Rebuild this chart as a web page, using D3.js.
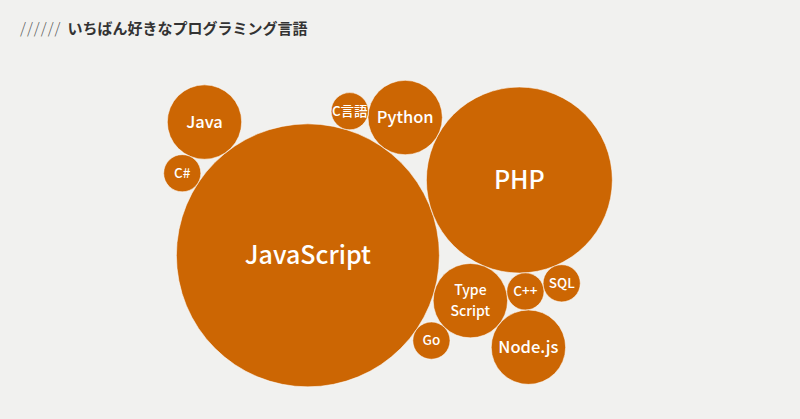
<!DOCTYPE html>
<html>
<head>
<meta charset="utf-8">
<script src="https://cdn.jsdelivr.net/npm/d3@7"></script>
<style>
  html, body { margin: 0; padding: 0; background: #f1f1ef; }
  svg { display: block; }
</style>
</head>
<body>
<svg id="chart" width="800" height="419"></svg>
<script>
// ---------------- data ----------------
const titleMark = "//////";
const titleText = "いちばん好きなプログラミング言語";
const languages = ["JavaScript", "PHP", "Python", "TypeScript", "Go", "C言語", "C++", "Node.js", "SQL", "Java", "C#"];
const votes     = [50, 25, 4, 4, 1, 1, 1, 4, 1, 4, 1];
const labelLines = [["JavaScript"], ["PHP"], ["Python"], ["Type", "Script"], ["Go"], ["C言語"], ["C++"], ["Node.js"], ["SQL"], ["Java"], ["C#"]];

// ---------------- layout description (which bubble rests on which) ----------------
const packedCore = ["JavaScript", "PHP", "Python", "TypeScript", "Go", "C言語", "C++"];
const restsOnOne = ["Java", "JavaScript", -127.8];           // bubble, neighbour, bearing (deg)
const restsOnTwo = [["Node.js", "TypeScript", "C++"], ["SQL", "C++", "PHP"], ["C#", "JavaScript", "Java"]];
const tiltDeg = -19.6;

// ---------------- build ----------------
const W = 800, H = 419;
const svg = d3.select("#chart");

const rScale = d3.scaleSqrt().domain([0, d3.max(votes)]).range([0, 131.5]);
const nodes = languages.map((name, i) => ({ name, value: votes[i], lines: labelLines[i], r: rScale(votes[i]) }));
const byName = new Map(nodes.map(d => [d.name, d]));

// 1) pack the core bubbles with d3
const core = packedCore.map(n => byName.get(n));
d3.packSiblings(core);

// 2) mirror + tilt the packed core
const phi = tiltDeg * Math.PI / 180;
core.forEach(d => {
  const x = d.x, y = -d.y;
  d.x = x * Math.cos(phi) - y * Math.sin(phi);
  d.y = x * Math.sin(phi) + y * Math.cos(phi);
});
const centre = [
  d3.sum(core, d => d.x * d.r * d.r) / d3.sum(core, d => d.r * d.r),
  d3.sum(core, d => d.y * d.r * d.r) / d3.sum(core, d => d.r * d.r)
];

// 3) bubble resting against a single neighbour
{
  const c = byName.get(restsOnOne[0]), a = byName.get(restsOnOne[1]);
  const ang = restsOnOne[2] * Math.PI / 180;
  c.x = a.x + (a.r + c.r) * Math.cos(ang);
  c.y = a.y + (a.r + c.r) * Math.sin(ang);
}

// 4) bubbles nested between two neighbours (outer side)
function nestBetween(c, a, b) {
  const dx = b.x - a.x, dy = b.y - a.y, d = Math.hypot(dx, dy);
  const ra = a.r + c.r, rb = b.r + c.r;
  const t = (ra * ra - rb * rb + d * d) / (2 * d);
  const h = Math.sqrt(Math.max(0, ra * ra - t * t));
  const ux = dx / d, uy = dy / d;
  const bx = a.x + t * ux, by = a.y + t * uy;
  const cands = [[bx - h * uy, by + h * ux], [bx + h * uy, by - h * ux]];
  const best = d3.greatest(cands, p => Math.hypot(p[0] - centre[0], p[1] - centre[1]));
  c.x = best[0]; c.y = best[1];
}
restsOnTwo.forEach(([c, a, b]) => nestBetween(byName.get(c), byName.get(a), byName.get(b)));

// 5) scales to place the cluster on the page
const x0 = d3.min(nodes, d => d.x - d.r), x1 = d3.max(nodes, d => d.x + d.r);
const y0 = d3.min(nodes, d => d.y - d.r), y1 = d3.max(nodes, d => d.y + d.r);
const cx = 388, cy = 233.6;
const xScale = d3.scaleLinear().domain([x0, x1]).range([cx - (x1 - x0) / 2, cx + (x1 - x0) / 2]);
const yScale = d3.scaleLinear().domain([y0, y1]).range([cy - (y1 - y0) / 2, cy + (y1 - y0) / 2]);
const fontScale = d3.scaleThreshold().domain([2, 10]).range([13.5, 16.5, 25]);

// background
svg.append("rect").attr("width", W).attr("height", H).attr("fill", "#f1f1ef");

// title
const title = svg.append("text")
  .attr("x", 20).attr("y", 34)
  .attr("font-family", "'Noto Sans CJK JP', 'Noto Sans', sans-serif")
  .attr("font-size", 15)
  .attr("fill", "#333333");
title.append("tspan").attr("font-weight", 300).attr("fill", "#555555").attr("letter-spacing", 1).text(titleMark);
title.append("tspan").attr("font-weight", 700).attr("dx", 6).text(titleText);

// bubbles
const g = svg.append("g").selectAll("g.bubble").data(nodes).join("g")
  .attr("class", "bubble")
  .attr("transform", d => `translate(${xScale(d.x)},${yScale(d.y)})`);

g.append("circle")
  .attr("r", d => d.r)
  .attr("fill", "#cc6603")
  .attr("stroke", "#ffffff")
  .attr("stroke-opacity", 0.55)
  .attr("stroke-width", 1);

g.each(function(d) {
  const multi = d.lines.length > 1;
  const fs = multi ? fontScale(d.value) - 2.5 : fontScale(d.value);
  const lh = 1.47;
  d.lines.forEach((line, i) => {
    const offset = (i - (d.lines.length - 1) / 2) * lh * fs;
    d3.select(this).append("text")
      .attr("text-anchor", "middle")
      .attr("font-family", "'Noto Sans CJK JP', 'Noto Sans', sans-serif")
      .attr("font-weight", 500)
      .attr("font-size", fs)
      .attr("fill", "#ffffff")
      .attr("x", 0)
      .attr("y", offset)
      .attr("dy", "0.36em")
      .text(line);
  });
});
</script>
</body>
</html>
